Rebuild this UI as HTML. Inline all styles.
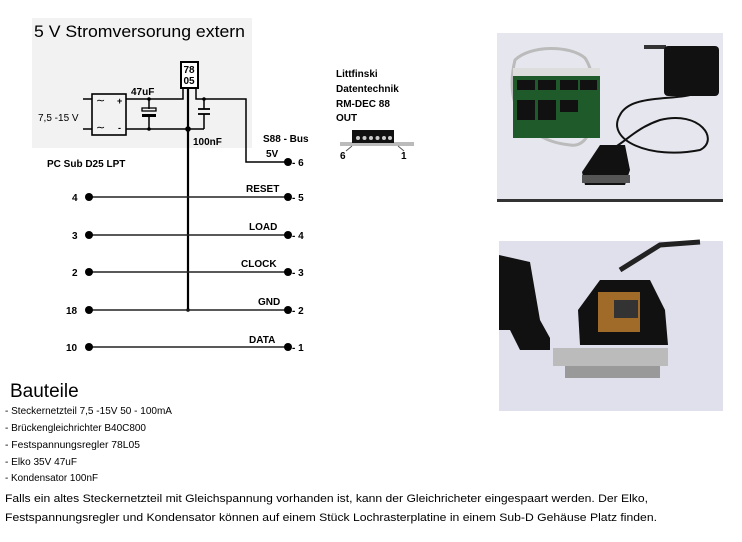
<!DOCTYPE html>
<html><head><meta charset="utf-8"><style>
html,body{margin:0;padding:0;background:#fff;}
svg{display:block;}
</style></head><body>
<svg width="742" height="542" viewBox="0 0 742 542" xmlns="http://www.w3.org/2000/svg" font-family="Liberation Sans, sans-serif">
<rect x="32" y="18" width="220" height="130" fill="#f2f2f2"/>
<text x="34" y="37" font-size="17" textLength="211" lengthAdjust="spacingAndGlyphs" fill="#000">5 V Stromversorung extern</text>
<!-- bridge -->
<rect x="92" y="94" width="34" height="41" fill="none" stroke="#000" stroke-width="1.6"/>
<line x1="83" y1="99" x2="92" y2="99" stroke="#000" stroke-width="1.5"/>
<line x1="83" y1="129" x2="92" y2="129" stroke="#000" stroke-width="1.5"/>
<text x="96" y="104" font-size="11">∼</text><text x="96" y="131" font-size="11">∼</text>
<text x="117" y="104" font-size="9" font-weight="bold">+</text><text x="118" y="131" font-size="9" font-weight="bold">-</text>
<text x="38" y="121" font-size="10">7,5 -15 V</text>
<!-- wires -->
<polyline points="126,99 183,99 183,88" fill="none" stroke="#000" stroke-width="1.5"/>
<line x1="126" y1="129" x2="204" y2="129" stroke="#000" stroke-width="1.5"/>
<polyline points="196,88 196,99 246,99 246,162 288,162" fill="none" stroke="#000" stroke-width="1.5"/>
<line x1="188" y1="88" x2="188" y2="310" stroke="#000" stroke-width="2.2"/>
<!-- 47uF -->
<line x1="149" y1="99" x2="149" y2="109" stroke="#000" stroke-width="1.5"/>
<rect x="142" y="108" width="14" height="3" fill="none" stroke="#000" stroke-width="1.3"/>
<rect x="142" y="114" width="14" height="3" fill="#000"/>
<line x1="149" y1="117" x2="149" y2="129" stroke="#000" stroke-width="1.5"/>
<text x="131" y="95" font-size="10" font-weight="bold">47uF</text>
<!-- 100nF -->
<line x1="204" y1="99" x2="204" y2="109" stroke="#000" stroke-width="1.5"/>
<line x1="198" y1="109" x2="210" y2="109" stroke="#000" stroke-width="1.8"/>
<line x1="198" y1="114" x2="210" y2="114" stroke="#000" stroke-width="1.8"/>
<line x1="204" y1="114" x2="204" y2="129" stroke="#000" stroke-width="1.5"/>
<text x="193" y="145" font-size="10" font-weight="bold">100nF</text>
<circle cx="149" cy="99" r="1.8"/><circle cx="149" cy="129" r="1.8"/><circle cx="204" cy="99" r="1.8"/><circle cx="188" cy="129" r="2.8"/><circle cx="188" cy="310" r="1.8"/>
<!-- 7805 -->
<rect x="181" y="62" width="17" height="26" fill="#fff" stroke="#000" stroke-width="2"/>
<text x="183.5" y="73" font-size="10" font-weight="bold">78</text>
<text x="183.5" y="84" font-size="10" font-weight="bold">05</text>
<text x="263" y="142" font-size="10" font-weight="bold">S88 - Bus</text>
<text x="266" y="157" font-size="10" font-weight="bold">5V</text>
<text x="47" y="167" font-size="10" font-weight="bold">PC Sub D25 LPT</text>
<!-- rows -->
<g stroke="#222" stroke-width="1.5">
<line x1="89" y1="197" x2="288" y2="197"/><line x1="89" y1="235" x2="288" y2="235"/>
<line x1="89" y1="272" x2="288" y2="272"/><line x1="89" y1="310" x2="288" y2="310"/>
<line x1="89" y1="347" x2="288" y2="347"/>
</g>
<g fill="#000">
<circle cx="89" cy="197" r="4"/><circle cx="89" cy="235" r="4"/><circle cx="89" cy="272" r="4"/><circle cx="89" cy="310" r="4"/><circle cx="89" cy="347" r="4"/>
<circle cx="288" cy="162" r="4"/><circle cx="288" cy="197" r="4"/><circle cx="288" cy="235" r="4"/><circle cx="288" cy="272" r="4"/><circle cx="288" cy="310" r="4"/><circle cx="288" cy="347" r="4"/>
</g>
<g font-size="10" font-weight="bold">
<text x="72" y="201">4</text><text x="72" y="239">3</text><text x="72" y="276">2</text><text x="66" y="314">18</text><text x="66" y="351">10</text>
<text x="292" y="166">- 6</text><text x="292" y="201">- 5</text><text x="292" y="239">- 4</text><text x="292" y="276">- 3</text><text x="292" y="314">- 2</text><text x="292" y="351">- 1</text>
<text x="246" y="192">RESET</text><text x="249" y="230">LOAD</text><text x="241" y="267">CLOCK</text><text x="258" y="305">GND</text><text x="249" y="343">DATA</text>
<text x="336" y="77">Littfinski</text><text x="336" y="92">Datentechnik</text><text x="336" y="107">RM-DEC 88</text><text x="336" y="121">OUT</text>
<text x="340" y="159">6</text><text x="401" y="159">1</text>
</g>
<!-- connector -->
<rect x="340" y="142" width="74" height="4" fill="#bbb"/>
<rect x="352" y="130" width="42" height="13" fill="#111"/>
<g fill="#ccc"><circle cx="358" cy="138" r="2"/><circle cx="364.5" cy="138" r="2"/><circle cx="371" cy="138" r="2"/><circle cx="377.5" cy="138" r="2"/><circle cx="384" cy="138" r="2"/><circle cx="390" cy="138" r="2"/></g>
<line x1="346" y1="151" x2="352" y2="146" stroke="#555"/><line x1="404" y1="151" x2="398" y2="146" stroke="#555"/>
<!-- photos -->
<rect x="497" y="33" width="226" height="169" fill="#e6e7ee"/>
<rect x="497" y="199" width="226" height="3" fill="#333"/>
<path d="M515 60 C505 100 520 140 570 145 C600 150 600 80 585 58 C570 45 530 45 515 60Z" fill="none" stroke="#bbb" stroke-width="3"/>
<rect x="513" y="68" width="87" height="70" fill="#1f5a2a"/>
<rect x="513" y="68" width="87" height="8" fill="#ddd"/>
<g fill="#111"><rect x="517" y="80" width="18" height="10"/><rect x="538" y="80" width="18" height="10"/><rect x="560" y="80" width="18" height="10"/><rect x="580" y="80" width="17" height="10"/><rect x="517" y="100" width="18" height="20"/><rect x="538" y="100" width="18" height="20"/><rect x="560" y="100" width="18" height="12"/></g>
<rect x="644" y="45" width="22" height="4" fill="#333"/>
<rect x="664" y="46" width="55" height="50" rx="4" fill="#111"/>
<path d="M690 95 C670 100 630 95 620 115 C605 140 650 160 700 150 C720 140 700 110 660 120 C630 130 620 150 605 150" fill="none" stroke="#111" stroke-width="2"/>
<path d="M600 145 L625 145 L630 170 L625 185 L585 185 L582 172 Z" fill="#111"/>
<rect x="582" y="175" width="48" height="8" fill="#555"/>
<rect x="499" y="241" width="224" height="170" fill="#e0e0ec"/>
<path d="M499 255 L530 262 L540 320 L550 338 L550 350 L520 350 L510 330 L499 330 Z" fill="#111"/>
<path d="M600 280 L650 280 L665 310 L668 345 L580 345 L578 310 Z" fill="#111"/>
<path d="M620 270 L660 245 L700 242" fill="none" stroke="#222" stroke-width="5"/>
<rect x="598" y="292" width="42" height="40" fill="#a06a28"/>
<rect x="614" y="300" width="24" height="18" fill="#333"/>
<rect x="553" y="348" width="115" height="18" fill="#bbb"/>
<rect x="565" y="366" width="95" height="12" fill="#999"/>
<!-- Bauteile -->
<text x="10" y="397" font-size="19">Bauteile</text>
<g font-size="10.5">
<text x="5" y="414" textLength="167" lengthAdjust="spacingAndGlyphs">- Steckernetzteil 7,5 -15V 50 - 100mA</text>
<text x="5" y="431" textLength="141" lengthAdjust="spacingAndGlyphs">- Brückengleichrichter B40C800</text>
<text x="5" y="448" textLength="135" lengthAdjust="spacingAndGlyphs">- Festspannungsregler  78L05</text>
<text x="5" y="465" textLength="72" lengthAdjust="spacingAndGlyphs">- Elko 35V 47uF</text>
<text x="5" y="481" textLength="93" lengthAdjust="spacingAndGlyphs">- Kondensator 100nF</text>
</g>
<g font-size="11">
<text x="5" y="502" textLength="643" lengthAdjust="spacingAndGlyphs">Falls ein altes Steckernetzteil mit Gleichspannung vorhanden ist, kann der Gleichricheter eingespaart werden. Der Elko,</text>
<text x="5" y="521" textLength="652" lengthAdjust="spacingAndGlyphs">Festspannungsregler und Kondensator können auf einem Stück Lochrasterplatine in einem Sub-D Gehäuse Platz finden.</text>
</g>
</svg>
</body></html>
